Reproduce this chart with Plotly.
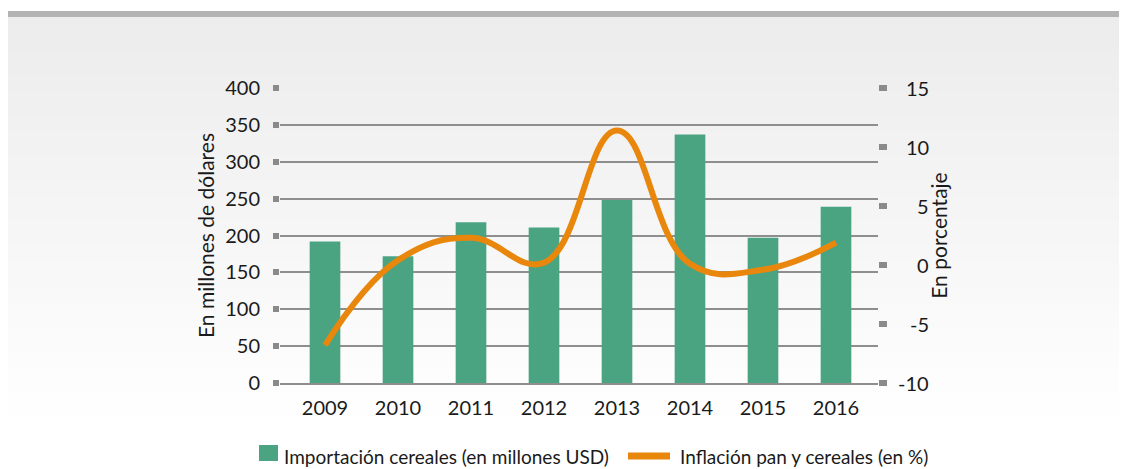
import plotly.graph_objects as go

# ---- data ----
years = ["2009", "2010", "2011", "2012", "2013", "2014", "2015", "2016"]
imports_musd = [192, 172, 218, 211, 248, 337, 197, 239]
inflation_pct = [-6.8, 0.4, 2.3, 0.2, 11.4, 0.1, -0.4, 1.9]
left_ticks = [0, 50, 100, 150, 200, 250, 300, 350, 400]
right_ticks = [-10, -5, 0, 5, 10, 15]

bar_name = "Importación cereales (en millones USD)"
line_name = "Inflación pan y cereales (en %)"
left_title = "En millones de dólares"
right_title = "En porcentaje"

# ---- layout geometry (page pixels; page has an 8px body margin) ----
OFF = 8
W, H = 1127, 469
PL, PR, PT, PB = 280, 878, 88, 383
pw, ph = PR - PL, PB - PT

def px_x(x):
    return (x - PL) / pw

def px_y(y):
    return (PB - y) / ph

FONT = "Lato"
TXT = "#1a1a1a"
GRID = "#8e8e8e"
TICK = "#8a8a8a"
GREEN = "#4aa482"
ORANGE = "#e8870c"

fig = go.Figure()

fig.add_trace(go.Bar(
    x=years, y=imports_musd, name=bar_name,
    marker=dict(color=GREEN, line=dict(width=0)),
    width=0.42, yaxis="y",
))
fig.add_trace(go.Scatter(
    x=years, y=inflation_pct, name=line_name, mode="lines",
    line=dict(color=ORANGE, width=6, shape="spline", smoothing=1.2),
    yaxis="y2",
))

# ---- background gradient + top band ----
shapes = []
top, bottom = 17, 425
n = 50
for i in range(n):
    y0 = top + (bottom - top) * i / n
    y1 = top + (bottom - top) * (i + 1) / n + 0.6
    v = int(round(236 + (255 - 236) * (i + 0.5) / n))
    shapes.append(dict(type="rect", xref="paper", yref="paper",
                       x0=px_x(OFF - 2), x1=px_x(W + 20), y0=px_y(y1), y1=px_y(y0),
                       fillcolor=f"rgb({v},{v},{v})", line=dict(width=0),
                       layer="below"))
shapes.append(dict(type="rect", xref="paper", yref="paper",
                   x0=px_x(OFF - 2), x1=px_x(W + 20), y0=px_y(17), y1=px_y(11),
                   fillcolor="#b3b3b3", line=dict(width=0), layer="below"))

# ---- legend (drawn as keys + text) ----
LEG_Y = 456
shapes.append(dict(type="rect", xref="paper", yref="paper",
                   x0=px_x(259), x1=px_x(278), y0=px_y(461), y1=px_y(445),
                   fillcolor=GREEN, line=dict(width=0)))
shapes.append(dict(type="line", xref="paper", yref="paper",
                   x0=px_x(628), x1=px_x(670), y0=px_y(LEG_Y), y1=px_y(LEG_Y),
                   line=dict(color=ORANGE, width=7)))

annotations = []
annotations.append(dict(x=px_x(282), y=px_y(LEG_Y), xref="paper", yref="paper",
                        text=bar_name, showarrow=False, xanchor="left",
                        yanchor="middle",
                        font=dict(family=FONT, size=19, color=TXT)))
annotations.append(dict(x=px_x(678), y=px_y(LEG_Y), xref="paper", yref="paper",
                        text=line_name, showarrow=False, xanchor="left",
                        yanchor="middle",
                        font=dict(family=FONT, size=19, color=TXT)))

# ---- right tick labels (right aligned) ----
for t in right_ticks:
    annotations.append(dict(x=px_x(931), y=t, xref="paper", yref="y2",
                            text=str(t), showarrow=False, xanchor="right",
                            yanchor="middle",
                            font=dict(family=FONT, size=20, color=TXT)))

fig.update_layout(
    width=W, height=H,
    margin=dict(l=PL - OFF, r=W - PR + OFF, t=PT - OFF, b=H - PB + OFF, pad=0),
    paper_bgcolor="white", plot_bgcolor="rgba(0,0,0,0)",
    font=dict(family=FONT, color=TXT),
    shapes=shapes, annotations=annotations,
    showlegend=False,
    xaxis=dict(range=[(PL - 325) / 73, (PR - 325) / 73], showgrid=False,
               zeroline=False, showline=True, linecolor=GRID, linewidth=1.5,
               ticks="", ticklabelstandoff=6,
               tickfont=dict(family=FONT, size=20, color=TXT),
               fixedrange=True),
    yaxis=dict(range=[0, 400], tickvals=left_ticks, showgrid=True,
               gridcolor=GRID, gridwidth=1.5, zeroline=False, showline=False,
               ticks="outside", ticklen=6, tickwidth=6, tickcolor=TICK,
               ticklabelstandoff=9,
               tickfont=dict(family=FONT, size=20, color=TXT),
               title=dict(text=left_title, standoff=4,
                          font=dict(family=FONT, size=21, color=TXT))),
    yaxis2=dict(range=[-10, 15], tickvals=right_ticks, overlaying="y",
                side="right", showgrid=False, zeroline=False, showline=False,
                ticks="outside", ticklen=8, tickwidth=6, tickcolor=TICK,
                showticklabels=False,
                title=dict(text=right_title, standoff=46,
                           font=dict(family=FONT, size=21, color=TXT))),
)

fig.write_html("out.html")
